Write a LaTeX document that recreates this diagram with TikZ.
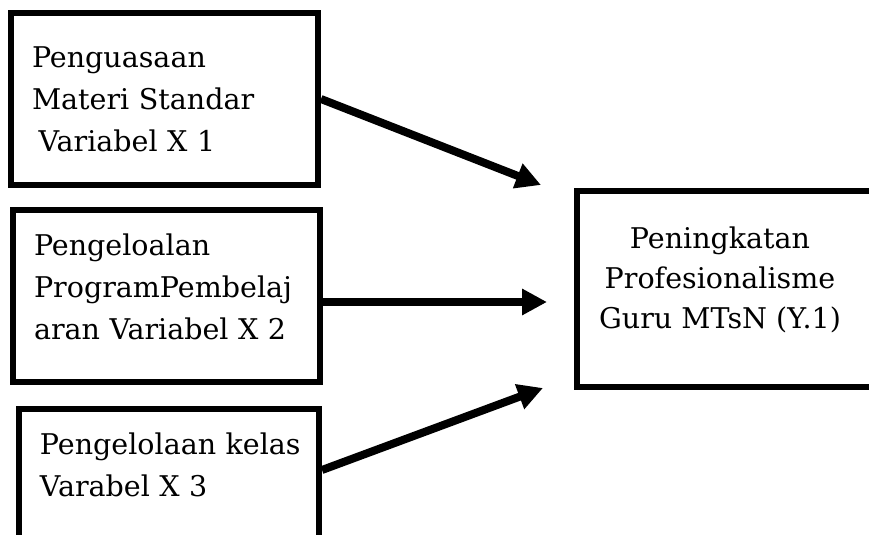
\documentclass[tikz,border=0pt]{standalone}
\usepackage{fontspec}
\setmainfont{DejaVu Serif}
\usepackage{tikz}
\usetikzlibrary{arrows.meta, positioning}

\tikzset{
	varbox/.style={draw, line width=4.5pt, anchor=north west, inner xsep=15.75pt, align=left, text width=198.75pt, font=\fontsize{21.4}{31.5}\selectfont},
	arr/.style={line width=6pt, -{Triangle[length=18.75pt, width=18.75pt]}}
}

\begin{document}
\begin{tikzpicture}[x=0.75pt, y=-0.75pt]
		\useasboundingbox (0,0) rectangle (869,535);
		\draw (8,10) node[varbox, minimum width=230.25pt, minimum height=129pt] (b1) {Penguasaan\\ Materi Standar\\ \hspace*{5pt}Variabel X 1}
		(10,207) node[varbox, minimum width=230.25pt, minimum height=129pt, text depth=76.5pt] (b2) {Pengeloalan\\ ProgramPembelaj\\ aran Variabel X 2}
		(16,406) node[varbox, minimum width=225pt, text width=193.5pt, inner ysep=18pt, text depth=150pt] (b3) {\mbox{Pengelolaan kelas}\\ Varabel X 3}
		(574,188) node[draw, line width=4.5pt, anchor=north west, minimum width=240pt, minimum height=147pt,
			label={[align=center, xshift=-12.75pt, yshift=6.75pt, font=\fontsize{21.4}{30}\selectfont]center:Peningkatan\\ Profesionalisme\\ Guru MTsN (Y.1)}] (y1) {};
		
		\coordinate (t1) at (541,185);
		\coordinate (t2) at (547,302);
		\coordinate (t3) at (543,388);
		\draw[arr] (b1.east) -- (t1);
		\draw[arr] ([yshift=-4.5pt]b2.east) -- (t2);
		\draw[arr] ([yshift=-48pt]b3.north east) -- (t3);
	\end{tikzpicture}
\end{document}
